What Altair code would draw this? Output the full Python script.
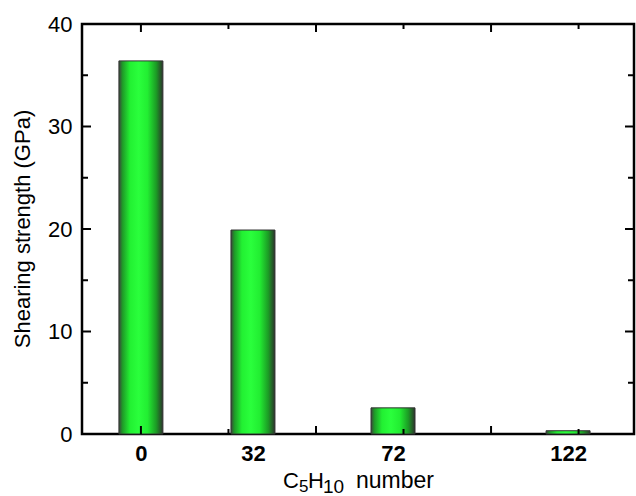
import altair as alt
import pandas as pd

# Bar data: shearing strength for each C5H10 count
c5h10_number = [0, 32, 72, 122]
strength_gpa = [36.4, 19.9, 2.55, 0.32]

# Tick positions (inward ticks on all four sides)
y_major = [0, 10, 20, 30, 40]
y_minor = [5, 15, 25, 35]
x_major = [0, 50, 100]
x_minor = [25, 75, 125]

W, H = 552, 410
FONT = "Liberation Sans"

bars_df = pd.DataFrame({"n": c5h10_number, "s": strength_gpa})

xscale = alt.Scale(domain=[-15.4, 139.4], nice=False, zero=False)
yscale = alt.Scale(domain=[0, 40], nice=False)

# Shared axis definitions so every layer resolves to the same axes
x_axis = alt.Axis(
    values=c5h10_number, title=None, ticks=False, tickSize=0,
    domain=False, grid=False, labelFont=FONT, labelFontSize=22,
    labelFontWeight="bold", labelColor="black", labelPadding=9,
    labelFlush=False, labelOverlap=False,
)
y_axis = alt.Axis(
    values=y_major, title=None, ticks=False, tickSize=0,
    domain=False, grid=False, labelFont=FONT, labelFontSize=22,
    labelColor="black", labelPadding=10, labelFlush=False,
)

gradient = alt.LinearGradient(
    gradient="linear",
    x1=0, x2=1, y1=0, y2=0,
    stops=[
        alt.GradientStop(offset=0.0, color="#3c453c"),
        alt.GradientStop(offset=0.08, color="#1f9a28"),
        alt.GradientStop(offset=0.25, color="#22f032"),
        alt.GradientStop(offset=0.45, color="#2aff3c"),
        alt.GradientStop(offset=0.65, color="#22ee32"),
        alt.GradientStop(offset=0.85, color="#1c9a25"),
        alt.GradientStop(offset=1.0, color="#2c332c"),
    ],
)

bars = alt.Chart(bars_df).mark_bar(
    size=44, fill=gradient, stroke="#333333", strokeWidth=1
).encode(
    x=alt.X("n:Q", scale=xscale, axis=x_axis),
    y=alt.Y("s:Q", scale=yscale, axis=y_axis),
)


def yticks(values, length):
    df = pd.DataFrame({"v": values})
    left = alt.Chart(df).mark_rule(color="black", strokeWidth=2).encode(
        y=alt.Y("v:Q", scale=yscale, axis=y_axis),
        x=alt.value(0), x2=alt.value(length),
    )
    right = alt.Chart(df).mark_rule(color="black", strokeWidth=2).encode(
        y=alt.Y("v:Q", scale=yscale, axis=y_axis),
        x=alt.value(W), x2=alt.value(W - length),
    )
    return [left, right]


def xticks(values, length):
    df = pd.DataFrame({"v": values})
    bottom = alt.Chart(df).mark_rule(color="black", strokeWidth=2).encode(
        x=alt.X("v:Q", scale=xscale, axis=x_axis),
        y=alt.value(H), y2=alt.value(H - length),
    )
    top = alt.Chart(df).mark_rule(color="black", strokeWidth=2).encode(
        x=alt.X("v:Q", scale=xscale, axis=x_axis),
        y=alt.value(0), y2=alt.value(length),
    )
    return [bottom, top]


def label(text, x, y, size, angle=0, align="left", baseline="alphabetic"):
    return alt.Chart(pd.DataFrame({"t": [text]})).mark_text(
        font=FONT, fontSize=size, color="black", align=align,
        baseline=baseline, angle=angle,
    ).encode(text="t:N", x=alt.value(x), y=alt.value(y))


# Axis titles (x title built from pieces to get the subscripts)
titles = [
    label("C", 201, 464, 22),
    label("5", 217, 468, 17),
    label("H", 226, 464, 22),
    label("10", 241, 469, 19),
    label("number", 274, 464, 23),
    label("Shearing strength (GPa)", -59, 205, 22, angle=270,
          align="center", baseline="middle"),
]

layers = [bars] + yticks(y_major, 9) + yticks(y_minor, 6) \
    + xticks(x_major, 8) + xticks(x_minor, 5) + titles

chart = alt.layer(*layers).properties(
    width=W, height=H,
    autosize=alt.AutoSizeParams(type="none"),
    padding={"left": 82, "top": 24, "right": 2, "bottom": 62},
    background="white",
).configure_view(
    stroke="black", strokeWidth=2.5
)

chart.save("out.html", embed_options={"renderer": "svg", "actions": False})
